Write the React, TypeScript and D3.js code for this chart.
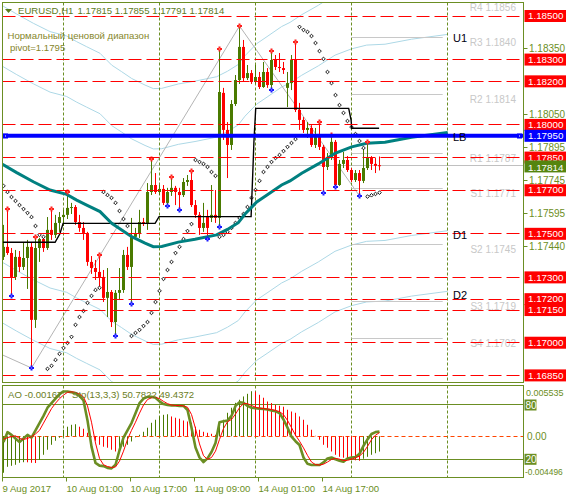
import React from "react";
import * as d3 from "d3";

// ---------------- data ----------------
const candleOpen = [
  1.17394, 1.1744, 1.17412, 1.17302, 1.17394, 1.17348, 1.17389, 1.1744, 1.17105, 1.17435,
  1.17476, 1.17435, 1.17518, 1.17495, 1.1755, 1.17577, 1.17587, 1.17619, 1.17623, 1.17554,
  1.17527, 1.17504, 1.17371, 1.17343, 1.17325, 1.17302, 1.17206, 1.17233, 1.17095, 1.17229,
  1.17242, 1.17403, 1.17348, 1.17486, 1.17499, 1.17554, 1.17545, 1.17692, 1.17724, 1.17692,
  1.17706, 1.17642, 1.17692, 1.17711, 1.17692, 1.17678, 1.17738, 1.17747, 1.17632, 1.17587,
  1.17527, 1.17582, 1.17573, 1.17587, 1.17573, 1.18147, 1.17977, 1.17908, 1.18096, 1.18206,
  1.18358, 1.18215, 1.18238, 1.18197, 1.1822, 1.18174, 1.18243, 1.18183, 1.18298, 1.18266,
  1.18261, 1.1817, 1.18192, 1.18298, 1.18069, 1.18023, 1.17977, 1.17986, 1.17908, 1.17945,
  1.17899, 1.17807, 1.17853, 1.17922, 1.17724, 1.17821, 1.17839, 1.17793, 1.17747, 1.17779,
  1.17743, 1.17802, 1.17848, 1.17821, 1.17815,
];
const candleHigh = [
  1.17541, 1.17614, 1.17435, 1.17426, 1.17421, 1.17458, 1.17472, 1.17458, 1.17486, 1.17481,
  1.17481, 1.17577, 1.17614, 1.17587, 1.176, 1.1761, 1.17692, 1.17642, 1.17632, 1.17587,
  1.17554, 1.17509, 1.17398, 1.1738, 1.17403, 1.17334, 1.17343, 1.17242, 1.17242, 1.17343,
  1.17426, 1.1744, 1.17573, 1.17527, 1.1761, 1.17573, 1.17733, 1.17844, 1.17779, 1.17724,
  1.17724, 1.17711, 1.17761, 1.1772, 1.17711, 1.17756, 1.1777, 1.17789, 1.17655, 1.176,
  1.17642, 1.1761, 1.17724, 1.17701, 1.18349, 1.1817, 1.18013, 1.18114, 1.18229, 1.18454,
  1.1839, 1.18275, 1.18252, 1.18275, 1.18243, 1.18289, 1.18261, 1.18339, 1.18321, 1.1833,
  1.18289, 1.18243, 1.18321, 1.18381, 1.18101, 1.18036, 1.18013, 1.17999, 1.17986, 1.18013,
  1.17908, 1.17871, 1.17954, 1.17931, 1.17839, 1.17876, 1.17857, 1.17802, 1.17793, 1.17793,
  1.17899, 1.17922, 1.17857, 1.17848, 1.17855,
];
const candleLow = [
  1.1738, 1.17403, 1.17215, 1.17288, 1.17325, 1.17334, 1.17247, 1.16884, 1.17068, 1.17371,
  1.17417, 1.17426, 1.17472, 1.17481, 1.17509, 1.17536, 1.17568, 1.17591, 1.17541, 1.17509,
  1.17472, 1.17353, 1.17316, 1.17288, 1.17256, 1.17187, 1.17118, 1.17072, 1.17031, 1.17196,
  1.17229, 1.17334, 1.17178, 1.17472, 1.17481, 1.17536, 1.17518, 1.17678, 1.17683, 1.17678,
  1.17632, 1.17628, 1.17674, 1.17632, 1.1761, 1.17669, 1.1772, 1.17623, 1.17573, 1.17495,
  1.17509, 1.17476, 1.17554, 1.1755, 1.17532, 1.17931, 1.17756, 1.17885, 1.18087, 1.18188,
  1.18197, 1.18206, 1.18188, 1.18188, 1.18165, 1.1817, 1.1817, 1.1816, 1.18252, 1.18243,
  1.18234, 1.18082, 1.1816, 1.18059, 1.17977, 1.17963, 1.1794, 1.17899, 1.17894, 1.17885,
  1.17688, 1.17793, 1.17839, 1.17715, 1.1772, 1.17802, 1.17784, 1.17738, 1.17738, 1.17674,
  1.17733, 1.17793, 1.17793, 1.17779, 1.17791,
];
const candleClose = [
  1.1744, 1.17412, 1.17302, 1.17394, 1.17348, 1.17389, 1.1744, 1.17105, 1.17435, 1.17476,
  1.17435, 1.17518, 1.17495, 1.1755, 1.17577, 1.17587, 1.17619, 1.17623, 1.17554, 1.17527,
  1.17504, 1.17371, 1.17343, 1.17325, 1.17302, 1.17206, 1.17233, 1.17095, 1.17229, 1.17242,
  1.17403, 1.17348, 1.17486, 1.17499, 1.17554, 1.17545, 1.17692, 1.17724, 1.17692, 1.17706,
  1.17642, 1.17692, 1.17711, 1.17692, 1.17678, 1.17738, 1.17747, 1.17632, 1.17587, 1.17527,
  1.1755, 1.17527, 1.17587, 1.17573, 1.18151, 1.17977, 1.17908, 1.18096, 1.18206, 1.18358,
  1.18215, 1.18238, 1.18197, 1.1822, 1.18174, 1.18243, 1.18183, 1.18298, 1.18266, 1.18261,
  1.18252, 1.18192, 1.18298, 1.18069, 1.18023, 1.17977, 1.17986, 1.17908, 1.17945, 1.17899,
  1.17807, 1.17853, 1.17922, 1.17724, 1.17821, 1.17839, 1.17793, 1.17747, 1.17779, 1.17743,
  1.17802, 1.17848, 1.17821, 1.17812, 1.17814,
];
const sarValues = [
  1.1772, 1.17692, 1.17669, 1.17651, 1.17632, 1.17614, 1.17596, 1.17577, 1.17536, 1.17495, 1.17486,
  1.1688, 1.16894, 1.16921, 1.16949, 1.16976, 1.16999, 1.17027, 1.17082, 1.17118, 1.17146, 1.17183, 1.17215, 1.17242, 1.17252,
  1.17692, 1.17678, 1.17665, 1.17642, 1.17605, 1.17568, 1.17536,
  1.17031, 1.17045, 1.17059, 1.17077, 1.17095, 1.17137, 1.17187, 1.17238, 1.17293, 1.17334, 1.17371, 1.17412, 1.1744, 1.17476, 1.17513, 1.17545,
  1.17839, 1.1783, 1.17821, 1.17807, 1.17784, 1.17766,
  1.17486, 1.17495, 1.17509, 1.17527, 1.1755, 1.17573, 1.17591, 1.17623, 1.17665, 1.17701, 1.17743, 1.17784, 1.17807, 1.1783, 1.17848, 1.17862, 1.1788, 1.17899, 1.17917, 1.17935,
  1.1845, 1.18436, 1.18427, 1.18408, 1.18376, 1.18339, 1.18303, 1.18243, 1.18192, 1.18137, 1.18091, 1.18055, 1.18018, 1.1799, 1.17958, 1.17926, 1.17894,
  1.17671, 1.17677, 1.17683, 1.17689,
];
const fractalUp = [1, 8, 12, 16, 24, 37, 42, 47, 54, 59, 67, 73, 79, 82, 91];
const fractalDown = [2, 7, 28, 32, 41, 44, 51, 54, 67, 80, 83, 89];

const maBar = [-0.25, 3.3, 7.45, 11.63, 15.8, 18.3, 20.8, 24.13, 27.05, 29.55, 32.05, 35.38, 37.45, 39.55, 43.7, 47.88, 53.28, 55.98, 58.7, 60.38, 63.3, 65.88, 69.53, 71.63, 74.55, 78.7, 82.88, 87.05, 90.8, 95.38, 102.03, 111.05];
const maPrice = [1.17819, 1.17781, 1.17739, 1.17701, 1.17681, 1.17655, 1.17632, 1.17602, 1.17548, 1.17518, 1.17487, 1.17457, 1.17441, 1.17442, 1.17462, 1.17475, 1.17495, 1.1752, 1.17551, 1.17591, 1.17646, 1.17678, 1.17724, 1.17743, 1.17778, 1.17821, 1.1787, 1.17899, 1.17916, 1.1792, 1.17943, 1.17965];
const envelopeDeviations = [0.382, 0.618]; // percent
const channelNames = ["U1", "LB", "D1", "D2"];

const stepBar = [-0.25, 12.9, 14.1, 14.9, 37.9, 38.9, 61.9, 62.3, 62.6, 63.05, 86.3, 86.9, 87.05, 93.9];
const stepPrice = [1.17461, 1.17461, 1.175, 1.17548, 1.17548, 1.17579, 1.17579, 1.1777, 1.1792, 1.18076, 1.18076, 1.18022, 1.17985, 1.17985];

const zigzagBar = [-0.25, 7, 59, 89];
const zigzagPrice = [1.16944, 1.16884, 1.18454, 1.17674];

const redLevels = [1.185, 1.183, 1.182, 1.18, 1.1785, 1.177, 1.175, 1.173, 1.172, 1.1715, 1.17, 1.1685];
const blueLevel = 1.1795;
const bidPrice = 1.17814;
const axisTicks = [1.1835, 1.1805, 1.17895, 1.17745, 1.17595, 1.1744];

const pivotNames = ["R4", "R3", "R2", "R1", "S1", "S2", "S3", "S4"];
const pivotValues = [1.1856, 1.184, 1.1814, 1.1787, 1.1771, 1.1745, 1.1719, 1.1702];

const daySeparators = [15, 39, 63, 87, 111];
const dateLabels = ["9 Aug 2017", "10 Aug 01:00", "10 Aug 17:00", "11 Aug 09:00", "14 Aug 01:00", "14 Aug 17:00"];
const dateBars = [0, 16, 32, 48, 64, 80];

const aoValues = [
  -0.00398, -0.00333, -0.00322, -0.00311, -0.00289, -0.00283, -0.00284, -0.00289, -0.00292, -0.00256,
  -0.00202, -0.00147, -0.00093, -0.00049, -0.00016, 0.00071, 0.00104, 0.00125, 0.00131, 0.00104,
  0.00082, 0.00038, -0.00011, -0.00049, -0.00093, -0.00114, -0.00125, -0.00147, -0.00166, -0.00147,
  -0.00114, -0.00093, -0.00057, -0.00011, 0.00016, 0.00049, 0.00093, 0.00147, 0.0018, 0.00216,
  0.00234, 0.0024, 0.00216, 0.00202, 0.00191, 0.00172, 0.00161, 0.00147, 0.00104, 0.00071,
  0.00049, 0.00038, 0.00027, 0.00016, 0.00147, 0.0018, 0.00256, 0.00311, 0.00365, 0.00398,
  0.00434, 0.00463, 0.00491, 0.00485, 0.00452, 0.0042, 0.00379, 0.00362, 0.00343, 0.00333,
  0.00322, 0.00289, 0.0027, 0.00256, 0.00216, 0.0018, 0.00125, 0.00071, 0.00005, -0.00038,
  -0.00093, -0.00125, -0.00166, -0.00202, -0.00224, -0.00234, -0.00245, -0.00256, -0.00262, -0.00267,
  -0.00245, -0.00224, -0.00202, -0.00185, -0.00167,
];
const stochMain = [
  39, 50, 47, 43, 39, 43, 47, 44, 52, 60,
  68, 77, 82, 87, 92, 95, 95, 94, 93, 90,
  85, 63, 34, 16, 13, 12.5, 10.5, 10, 14, 30,
  44, 52, 60, 71, 82, 87, 89, 89, 88, 84,
  81, 80, 79.5, 79.5, 79, 79, 74.5, 55, 33, 22,
  17, 21, 28, 38, 61, 62, 62.7, 68, 79, 83,
  82.5, 79, 77, 76.4, 76, 75.5, 75, 74, 73, 71,
  64, 55, 45, 40, 35.8, 22, 15, 13.7, 13.7, 13.7,
  16.5, 21, 22, 20, 18.5, 17.3, 21, 22, 22.5, 26,
  35, 42, 48, 50, 50.78,
];
const stochSignal = [
  42, 44, 45, 46, 43, 42, 43, 45, 48, 52,
  60, 68, 76, 82, 87, 91, 94, 94.5, 94, 92,
  89, 79, 61, 38, 21, 14, 12, 11, 11.5, 18,
  29, 42, 52, 61, 71, 80, 86, 88, 88.5, 87,
  84, 81.5, 80, 79.5, 79.5, 79, 77.5, 69.5, 54, 37,
  24, 20, 22, 29, 42, 54, 61.5, 64, 70, 77,
  81.5, 81.5, 79.5, 77.5, 76.5, 76, 75.5, 75, 74, 72.7,
  69.3, 63, 55, 46.7, 40, 32.6, 24.3, 17, 14.1, 13.7,
  14.6, 17, 19.8, 21, 20.2, 18.6, 18.9, 20.1, 21.8, 23.5,
  27.8, 34.3, 41.7, 46.7, 49.44,
];
const stochLevels = [80, 20];
const aoMax = 0.005535;
const aoMin = -0.004496;

// ---------------- chart ----------------
const FONT = "'Liberation Sans', Arial, sans-serif";
const OLIVE = "#6b8e23";
const BULL = "#4a7a00";
const BEAR = "#ff0000";

export default function App() {
  const L = 2.5, R = 523.5, T = 2.5, B = 382.5;
  const ST = 385.5, SB = 477.5;

  const x = d3.scaleLinear().domain([-0.25, 130]).range([L, R]);
  const y = d3.scaleLinear().domain([1.1685, 1.185]).range([375.4, 16]);
  const yS = d3.scaleLinear().domain([0, 100]).range([477.4, 386.9]);
  const yA = d3.scaleLinear().domain([aoMin, aoMax]).range([SB, ST]);
  const crisp = (v: number) => Math.round(v - 0.5) + 0.5;

  const pathOf = (bars: number[], vals: number[], sc: any) =>
    d3.line<number>().x((_, k) => x(bars[k])).y((v) => sc(v))(vals) || "";
  const seriesPath = (vals: number[], sc: any) =>
    d3.line<number>().x((_, k) => x(k)).y((v) => sc(v))(vals) || "";

  const envs = [
    maPrice.map((v) => v * (1 + envelopeDeviations[1] / 100)),
    maPrice.map((v) => v * (1 + envelopeDeviations[0] / 100)),
    maPrice.map((v) => v * (1 - envelopeDeviations[0] / 100)),
    maPrice.map((v) => v * (1 - envelopeDeviations[1] / 100)),
  ];
  const last = maPrice.length - 1;
  const channelEnds = [envs[1][last], maPrice[last], envs[2][last], envs[3][last]];

  return (
    <svg width={566} height={499} style={{ position: "absolute", left: 0, top: 0, display: "block" }} fontFamily={FONT}>
      <defs>
        <clipPath id="mainClip"><rect x={L} y={T} width={R - L} height={B - T} /></clipPath>
        <clipPath id="subClip"><rect x={L} y={ST} width={R - L} height={SB - ST} /></clipPath>
      </defs>
      <rect x={0} y={0} width={566} height={499} fill="#ffffff" />

      {/* ---------- main window ---------- */}
      <g clipPath="url(#mainClip)">
        <line x1={L} x2={R} y1={crisp(y(bidPrice))} y2={crisp(y(bidPrice))} stroke="#c0c0c0" strokeWidth={1} />
        {envs.map((e, k) => (
          <path key={"env" + k} d={pathOf(maBar, e, y)} fill="none" stroke="#add8e6" strokeWidth={1} />
        ))}
        <path d={pathOf(zigzagBar, zigzagPrice, y)} fill="none" stroke="#b4b4b4" strokeWidth={1} />
        {daySeparators.map((b) => (
          <line key={"sep" + b} x1={x(b)} x2={x(b)} y1={T} y2={B} stroke={OLIVE} strokeWidth={1} strokeDasharray="3,2" />
        ))}

        {/* pivot lines */}
        {pivotValues.map((p, k) => (
          <line key={"pv" + k} x1={x(87)} x2={x(109.8)} y1={crisp(y(p))} y2={crisp(y(p))} stroke="#c8c8c8" strokeWidth={1} />
        ))}
        {pivotValues.map((p, k) => (
          <text key={"pvt" + k} x={516} y={y(p) + 8.5} fontSize={10} fill="#c8c8c8" textAnchor="end">
            {pivotNames[k] + " " + p.toFixed(4)}
          </text>
        ))}

        {/* candles */}
        {candleOpen.map((o, i) => {
          const c = candleClose[i];
          const col = c >= o ? BULL : BEAR;
          const cx = x(i);
          const top = y(Math.max(o, c));
          const bot = y(Math.min(o, c));
          return (
            <g key={"c" + i}>
              <line x1={cx} x2={cx} y1={y(candleHigh[i])} y2={y(candleLow[i])} stroke={col} strokeWidth={1} />
              <rect x={cx - 1.5} y={top} width={3} height={Math.max(1, bot - top)} fill={col} />
            </g>
          );
        })}

        {/* parabolic SAR */}
        {sarValues.map((v, i) => {
          const cx = x(i), cy = y(v);
          return (
            <path key={"s" + i} d={`M${cx},${cy - 1.8}L${cx + 1.8},${cy}L${cx},${cy + 1.8}L${cx - 1.8},${cy}Z`}
              fill="#ffffff" stroke="#000000" strokeWidth={0.9} />
          );
        })}

        <path d={pathOf(stepBar, stepPrice, y)} fill="none" stroke="#000000" strokeWidth={1.4} />
        <path d={pathOf(maBar, maPrice, y)} fill="none" stroke="#008080" strokeWidth={3} />

        {/* fractals */}
        {fractalUp.map((i) => {
          const cx = x(i), cy = Math.round(y(candleHigh[i]));
          return (
            <g key={"fu" + i}>
              <rect x={cx - 2.5} y={cy - 1} width={5} height={2} fill="#ff2020" />
              <rect x={cx - 1} y={cy - 2.5} width={2} height={5} fill="#ff2020" />
              <rect x={cx - 0.5} y={cy - 0.5} width={1} height={1} fill="#ffb070" />
            </g>
          );
        })}
        {fractalDown.map((i) => {
          const cx = x(i), cy = Math.round(y(candleLow[i]));
          return (
            <g key={"fd" + i}>
              <rect x={cx - 2.5} y={cy - 1} width={5} height={2} fill="#1a1aff" />
              <rect x={cx - 1} y={cy - 2.5} width={2} height={5} fill="#1a1aff" />
              <rect x={cx - 0.5} y={cy - 0.5} width={1} height={1} fill="#a0a0ff" />
            </g>
          );
        })}

        {/* horizontal levels */}
        {redLevels.map((p) => (
          <line key={"r" + p} x1={L} x2={R} y1={crisp(y(p))} y2={crisp(y(p))} stroke="#ff0000" strokeWidth={1} strokeDasharray="13,5" />
        ))}
        <line x1={L} x2={R} y1={y(blueLevel)} y2={y(blueLevel)} stroke="#0000ff" strokeWidth={4} />
        {[5.5, 519.5].map((bx) => (
          <g key={"bq" + bx}>
            <rect x={bx - 2.5} y={Math.round(y(blueLevel)) - 2.5} width={5} height={5} fill="#0000ff" />
            <rect x={bx - 0.5} y={Math.round(y(blueLevel)) - 0.5} width={1} height={1} fill="#ffffff" />
          </g>
        ))}

        {channelNames.map((n, k) => (
          <text key={"ch" + n} x={453} y={y(channelEnds[k]) + 8} fontSize={11} fill="#000010">{n}</text>
        ))}

        {/* title + comment */}
        <path d="M5,9L12,9L8.5,13Z" fill="#5b7b1b" />
        <text x={18} y={14} fontSize={9.6} fill="#5b7b1b">EURUSD,H1</text>
        <text x={77.5} y={14} fontSize={9.6} fill="#5b7b1b">1.17815 1.17855 1.17791 1.17814</text>
        <text x={7.5} y={39} fontSize={9.6} fill="#86862a">Нормальный ценовой диапазон</text>
        <text x={10} y={51} fontSize={9.6} fill="#86862a">pivot=1.1795</text>
      </g>
      <rect x={L} y={T} width={R - L} height={B - T} fill="none" stroke={OLIVE} strokeWidth={1} />

      {/* right price axis */}
      {axisTicks.map((p) => (
        <g key={"t" + p}>
          <line x1={R} x2={R + 4} y1={crisp(y(p))} y2={crisp(y(p))} stroke={OLIVE} strokeWidth={1} />
          <text x={529} y={y(p) + 3.5} fontSize={10} fill={OLIVE}>{p.toFixed(5)}</text>
        </g>
      ))}
      {redLevels.map((p) => (
        <g key={"rl" + p}>
          <rect x={524.5} y={y(p) - 6} width={42} height={12} fill="#ff0000" />
          <text x={528} y={y(p) + 3.2} fontSize={9.8} fill="#ffffff">{p.toFixed(5)}</text>
        </g>
      ))}
      <rect x={524.5} y={y(blueLevel) - 6} width={42} height={12} fill="#0000ff" />
      <text x={528} y={y(blueLevel) + 3.4} fontSize={9.8} fill="#ffffff">{blueLevel.toFixed(5)}</text>
      <rect x={524.5} y={y(bidPrice) - 5} width={42} height={12} fill="#55850f" />
      <text x={528} y={y(bidPrice) + 5.3} fontSize={9.8} fill="#ffffff">{bidPrice.toFixed(5)}</text>

      {/* ---------- sub window ---------- */}
      <g clipPath="url(#subClip)">
        {daySeparators.map((b) => (
          <line key={"ssep" + b} x1={x(b)} x2={x(b)} y1={ST} y2={SB} stroke={OLIVE} strokeWidth={1} strokeDasharray="3,2" />
        ))}
        {stochLevels.map((lv) => (
          <line key={"lv" + lv} x1={L} x2={R} y1={crisp(yS(lv))} y2={crisp(yS(lv))} stroke={OLIVE} strokeWidth={1} />
        ))}
        <line x1={L} x2={R} y1={crisp(yA(0))} y2={crisp(yA(0))} stroke="#ff4500" strokeWidth={1} strokeDasharray="4,3" />
        {aoValues.map((v, i) => (
          <line key={"ao" + i} x1={x(i)} x2={x(i)} y1={yA(0)} y2={yA(v)}
            stroke={i === 0 || v >= aoValues[i - 1] ? BULL : BEAR} strokeWidth={1} />
        ))}
        <path d={seriesPath(stochMain, yS)} fill="none" stroke={OLIVE} strokeWidth={2.6} strokeLinejoin="round" />
        <path d={seriesPath(stochSignal, yS)} fill="none" stroke="#ff0000" strokeWidth={1} />
        <text x={8} y={397.5} fontSize={9.6} fill="#6b7d23">AO -0.00167</text>
        <text x={72} y={397.5} fontSize={9.6} fill="#6b7d23">Sto(13,3,3) 50.7822 49.4372</text>
      </g>
      <rect x={L} y={ST} width={R - L} height={SB - ST} fill="none" stroke={OLIVE} strokeWidth={1} />

      {/* sub-window right scale */}
      <text x={526} y={396} fontSize={9} fill={OLIVE}>{aoMax.toFixed(6)}</text>
      <text x={525} y={475} fontSize={8.4} fill={OLIVE}>{aoMin.toFixed(6)}</text>
      <text x={527} y={yA(0) + 3.5} fontSize={10} fill={OLIVE}>0.00</text>
      {stochLevels.map((lv) => (
        <g key={"sl" + lv}>
          <rect x={524.5} y={yS(lv) - 5.5} width={12} height={11} fill={OLIVE} />
          <text x={525.5} y={yS(lv) + 3.6} fontSize={10} fill="#ffffff">{String(lv)}</text>
        </g>
      ))}

      {/* time axis */}
      {dateBars.map((b, k) => (
        <g key={"d" + k}>
          <line x1={crisp(x(b) - 1)} x2={crisp(x(b) - 1)} y1={SB} y2={SB + 4} stroke={OLIVE} strokeWidth={1} />
          <text x={x(b) - 1} y={491.5} fontSize={9.6} fill={OLIVE}>{dateLabels[k]}</text>
        </g>
      ))}
    </svg>
  );
}
